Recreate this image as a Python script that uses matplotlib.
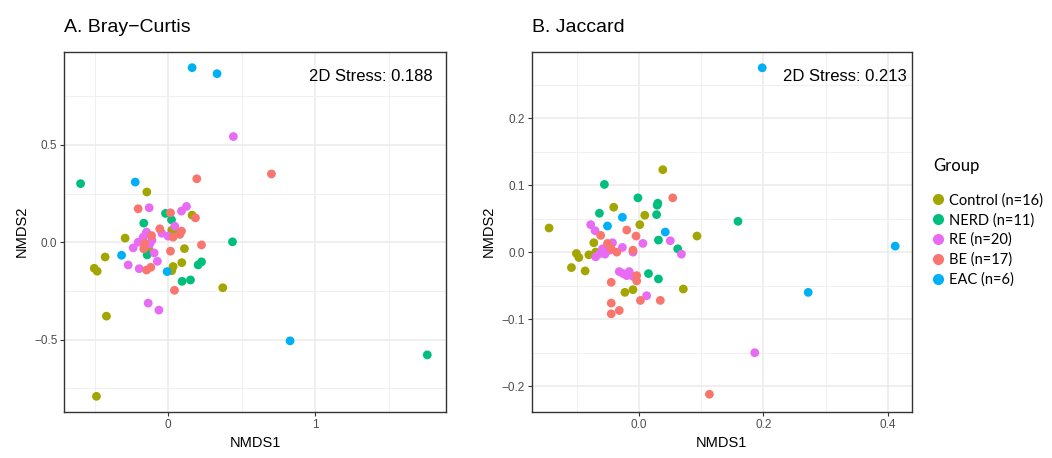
import numpy as np
import matplotlib.pyplot as plt
from matplotlib.ticker import MultipleLocator
from matplotlib.lines import Line2D

plt.rcParams['font.family'] = ['Liberation Sans', 'DejaVu Sans']

# --- groups / colours (ggplot default hue) ---
groups = ['Control (n=16)', 'NERD (n=11)', 'RE (n=20)', 'BE (n=17)', 'EAC (n=6)']
colors = ['#A3A500', '#00BF7D', '#E76BF3', '#F8766D', '#00B0F6']

# --- A. Bray-Curtis NMDS scores ---
bc_control_x = [-0.145, 0.163, -0.293, -0.429, -0.503, -0.483, -0.420, -0.488, 0.372, 0.111, 0.093, 0.034, 0.025, 0.025, -0.13, 0.06]
bc_control_y = [0.258, 0.139, 0.021, -0.076, -0.134, -0.149, -0.380, -0.792, -0.234, -0.033, -0.105, -0.125, -0.146, 0.062, -0.04, 0.05]
bc_nerd_x = [-0.596, 1.764, 0.438, -0.018, 0.023, -0.166, -0.143, 0.095, 0.152, 0.204, 0.227]
bc_nerd_y = [0.301, -0.579, 0.002, 0.148, 0.115, 0.098, -0.065, -0.201, -0.194, -0.117, -0.101]
bc_re_x = [0.444, -0.129, 0.091, 0.125, 0.045, 0.0, -0.147, -0.170, -0.204, -0.238, -0.125, -0.095, -0.073, -0.272, -0.197, -0.136, -0.063, -0.043, -0.110, -0.150]
bc_re_y = [0.543, 0.177, 0.160, 0.184, 0.082, 0.031, 0.052, 0.026, 0.0, -0.029, -0.009, -0.055, -0.098, -0.117, -0.136, -0.313, -0.349, 0.046, 0.010, 0.040]
bc_be_x = [0.703, 0.195, -0.204, 0.016, 0.186, -0.057, 0.091, 0.034, 0.079, -0.113, -0.159, -0.166, 0.016, 0.227, -0.147, -0.118, 0.043]
bc_be_y = [0.351, 0.326, 0.172, 0.151, 0.125, 0.069, 0.057, 0.026, 0.040, 0.034, -0.005, -0.034, -0.046, -0.014, -0.143, -0.129, -0.247]
bc_eac_x = [0.163, 0.333, -0.224, -0.317, -0.007, 0.830]
bc_eac_y = [0.897, 0.866, 0.309, -0.067, -0.151, -0.507]

# --- B. Jaccard NMDS scores ---
jc_control_x = [-0.145, 0.038, -0.101, -0.097, -0.109, -0.087, -0.081, -0.073, -0.041, 0.009, 0.001, 0.093, 0.071, -0.023, -0.010, -0.070]
jc_control_y = [0.036, 0.123, -0.002, -0.008, -0.023, -0.028, -0.004, 0.014, 0.067, 0.055, 0.041, 0.024, -0.055, -0.060, -0.056, 0.0]
jc_nerd_x = [-0.056, -0.064, -0.002, 0.030, 0.028, 0.031, 0.062, 0.015, 0.031, 0.159, 0.029]
jc_nerd_y = [0.101, 0.058, 0.081, 0.073, 0.056, 0.018, 0.005, -0.032, -0.040, 0.046, 0.070]
jc_re_x = [0.186, -0.078, -0.071, -0.070, -0.055, -0.059, -0.043, -0.027, -0.010, 0.006, 0.050, 0.068, -0.032, -0.026, -0.016, -0.020, -0.010, 0.012, -0.047, -0.063]
jc_re_y = [-0.150, 0.041, 0.032, -0.007, -0.003, 0.005, 0.014, 0.007, 0.0, 0.013, 0.017, -0.003, -0.029, -0.032, -0.029, -0.035, -0.036, -0.065, 0.003, -0.002]
jc_be_x = [0.113, 0.054, -0.020, -0.005, -0.062, -0.051, -0.036, -0.045, -0.010, -0.004, -0.004, -0.045, -0.045, -0.045, -0.032, 0.002, 0.034]
jc_be_y = [-0.212, 0.081, 0.033, 0.024, 0.025, 0.013, 0.0, 0.005, 0.003, -0.035, -0.043, -0.045, -0.076, -0.092, -0.087, -0.072, -0.072]
jc_eac_x = [0.198, 0.412, 0.272, -0.027, -0.051, 0.042]
jc_eac_y = [0.275, 0.009, -0.060, 0.052, 0.039, 0.030]

bc_data = [(bc_control_x, bc_control_y), (bc_nerd_x, bc_nerd_y), (bc_re_x, bc_re_y),
           (bc_be_x, bc_be_y), (bc_eac_x, bc_eac_y)]
jc_data = [(jc_control_x, jc_control_y), (jc_nerd_x, jc_nerd_y), (jc_re_x, jc_re_y),
           (jc_be_x, jc_be_y), (jc_eac_x, jc_eac_y)]


def style_panel(ax, major_x, major_y):
    ax.set_facecolor('white')
    for sp in ax.spines.values():
        sp.set_color('#333333')
        sp.set_linewidth(1.0)
    ax.xaxis.set_major_locator(MultipleLocator(major_x))
    ax.xaxis.set_minor_locator(MultipleLocator(major_x / 2))
    ax.yaxis.set_major_locator(MultipleLocator(major_y))
    ax.yaxis.set_minor_locator(MultipleLocator(major_y / 2))
    ax.grid(True, which='major', color='#EBEBEB', lw=1.1, zorder=0)
    ax.grid(True, which='minor', color='#F0F0F0', lw=0.7, zorder=0)
    ax.set_axisbelow(True)
    ax.tick_params(which='major', length=3, width=0.8, color='#333333',
                   labelcolor='#4D4D4D', labelsize=8.5, pad=2)
    ax.tick_params(which='minor', length=0)
    ax.set_xlabel('NMDS1', fontsize=10.5, labelpad=4)
    ax.set_ylabel('NMDS2', fontsize=10.5, labelpad=4)


fig = plt.figure(figsize=(10.52, 4.58), dpi=100)
ax1 = fig.add_axes([0.0611, 0.1011, 0.3628, 0.786])
ax2 = fig.add_axes([0.5054, 0.1011, 0.3615, 0.786])

for (x, y), c in zip(bc_data, colors):
    ax1.scatter(x, y, s=40, color=c, edgecolors='none', zorder=3)
for (x, y), c in zip(jc_data, colors):
    ax2.scatter(x, y, s=40, color=c, edgecolors='none', zorder=3)

style_panel(ax1, 1.0, 0.5)
ax1.set_xlim(-0.707, 1.891)
ax1.set_ylim(-0.871, 0.979)
ax1.set_xticks([0, 1])
ax1.set_xticklabels(['0', '1'])
ax1.set_yticks([-0.5, 0.0, 0.5])
ax1.set_yticklabels(['\u22120.5', '0.0', '0.5'])
ax1.text(0.965, 0.93, '2D Stress: 0.188', transform=ax1.transAxes,
         ha='right', va='center', fontsize=12)
ax1.set_title('A. Bray\u2212Curtis', loc='left', fontsize=14, pad=14)

style_panel(ax2, 0.2, 0.1)
ax2.set_xlim(-0.173, 0.439)
ax2.set_ylim(-0.238, 0.299)
ax2.set_xticks([0.0, 0.2, 0.4])
ax2.set_xticklabels(['0.0', '0.2', '0.4'])
ax2.set_yticks([-0.2, -0.1, 0.0, 0.1, 0.2])
ax2.set_yticklabels(['\u22120.2', '\u22120.1', '0.0', '0.1', '0.2'])
ax2.text(0.985, 0.93, '2D Stress: 0.213', transform=ax2.transAxes,
         ha='right', va='center', fontsize=12)
ax2.set_title('B. Jaccard', loc='left', fontsize=14, pad=14)

# legend: title placed separately to match the larger gap
fig.text(933 / 1052, 1 - 166 / 458, 'Group', family='Lato', fontsize=12,
         ha='left', va='center')
handles = [Line2D([0], [0], marker='o', linestyle='None', markersize=8,
                  markerfacecolor=c, markeredgecolor='none', label=g)
           for g, c in zip(groups, colors)]
fig.legend(handles=handles, loc='upper left',
           bbox_to_anchor=(928 / 1052, 1 - 193 / 458), frameon=False,
           prop={'family': 'Lato', 'size': 10.5},
           handletextpad=0.05, labelspacing=0.38, borderaxespad=0,
           borderpad=0, handlelength=1.4)

fig.savefig('out.png', dpi=100)
